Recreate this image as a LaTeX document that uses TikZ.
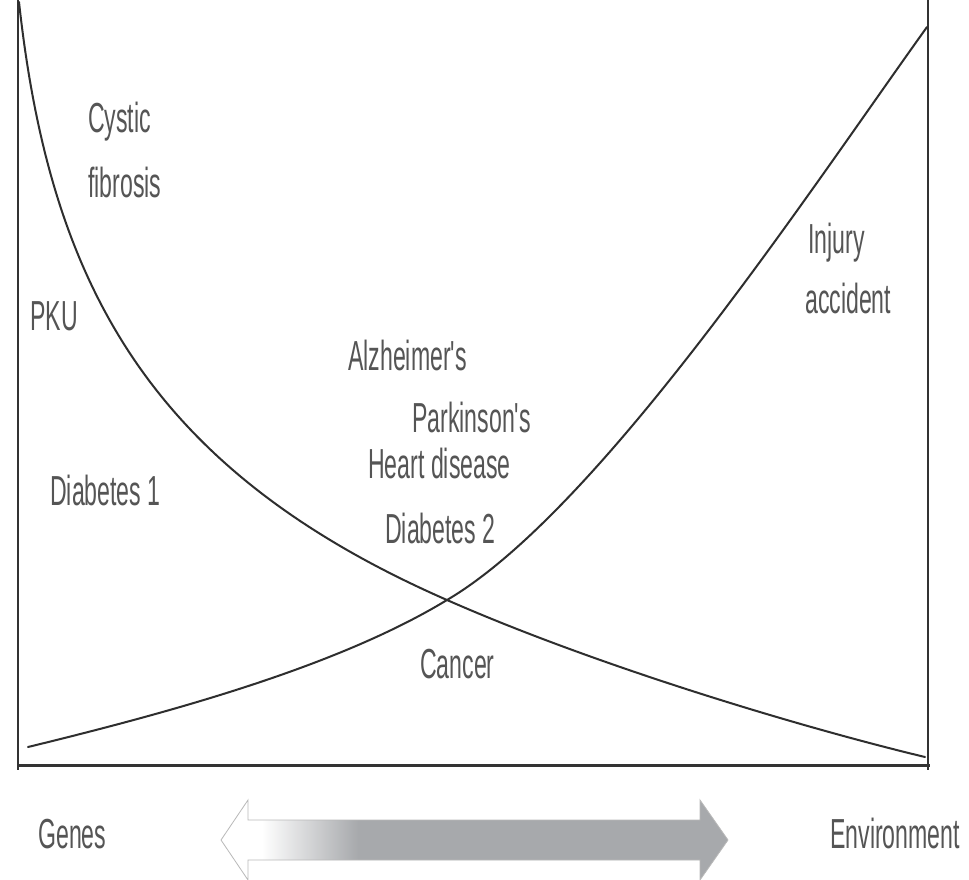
\documentclass[tikz,border=0pt]{standalone}
\usepackage{fontspec}
\newfontfamily\hand[FakeStretch=0.55]{Liberation Sans}
\definecolor{axisgray}{HTML}{333333}
\definecolor{curvegray}{HTML}{2E2E2E}
\definecolor{txtgray}{HTML}{555555}
\definecolor{arrowgray}{HTML}{A7A9AC}
\pgfdeclarehorizontalshading{arrowshade}{100bp}{color(0bp)=(white); color(29bp)=(white); color(38.5bp)=(arrowgray); color(100bp)=(arrowgray)}
\tikzset{
  lbl/.style={anchor=base west, inner sep=0pt, text=txtgray, font=\hand\fontsize{42}{44}\selectfont},
  axisline/.style={draw=axisgray, line width=1.6pt},
  curve/.style={draw=curvegray, line width=2pt, line cap=round}
}
\begin{document}
\begin{tikzpicture}[x=1pt,y=-1pt]
\useasboundingbox (0,0) rectangle (969,879);
\fill[white] (0,0) rectangle (969,879);
% axes
\draw[axisline] (18,0) -- (18,770);
\draw[axisline] (928,0) -- (928,770);
\draw[draw=axisgray, line width=3pt] (17,765) -- (930,765);
% curves
\coordinate (gtop) at (19,2);
\coordinate (cross) at (447,600);
\coordinate (gend) at (925,757);
\coordinate (estart) at (28,747);
\coordinate (eend) at (927,27);
\draw[curve] (gtop) .. controls (50,285) and (150,470) .. (cross)
  .. controls (597,666) and (800,727) .. (gend);
\draw[curve] (estart) .. controls (180,710) and (340,665) .. (cross)
  .. controls (600,510) and (810,190) .. (eend);
% labels
\node[lbl] (cf1) at (88,132) {Cystic};
\node[lbl] (cf2) at (88,197) {fibrosis};
\node[lbl] (pku) at (30,330) {PKU};
\node[lbl] (inj) at (808,253) {Injury};
\node[lbl] (acc) at (805,313) {accident};
\node[lbl] (alz) at (348,370) {Alzheimer's};
\node[lbl] (par) at (412,432) {Parkinson's};
\node[lbl] (hrt) at (368,478) {Heart disease};
\node[lbl] (db1) at (50,505) {Diabetes 1};
\node[lbl] (db2) at (385,543) {Diabetes 2};
\node[lbl] (can) at (420,678) {Cancer};
\node[lbl] (gen) at (38,848) {Genes};
\node[lbl] (env) at (830,848) {Environment};
% double arrow
\begin{scope}
\clip (0,0) rectangle (969,879);
\shade[shading=arrowshade, draw=gray!55, line width=0.8pt, line join=miter]
  (221,840) -- (248,800) -- (248,820) -- (700,820) -- (700,800) -- (728,840)
  -- (700,880) -- (700,860) -- (248,860) -- (248,880) -- cycle;
\end{scope}
\end{tikzpicture}
\end{document}
